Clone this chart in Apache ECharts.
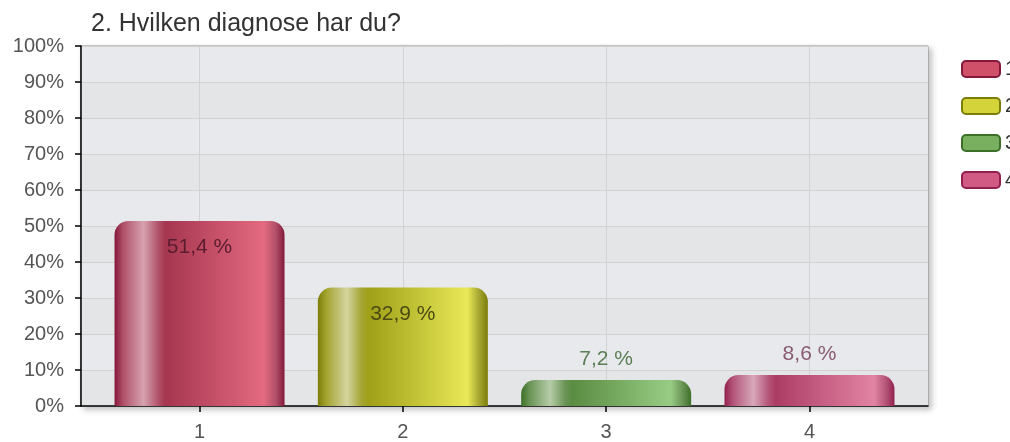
<!DOCTYPE html>
<html>
<head>
<meta charset="utf-8">
<title>2. Hvilken diagnose har du?</title>
<script src="https://cdn.jsdelivr.net/npm/echarts@6/dist/echarts.min.js"></script>
<style>
  html, body { margin: 0; padding: 0; background: #fff; }
  #chart { width: 1010px; height: 442px; }
</style>
</head>
<body>
<div id="chart"></div>
<script>
// chart data
const titleText = '2. Hvilken diagnose har du?'
const categories = ['1', '2', '3', '4']
const values = [51.4, 32.9, 7.2, 8.6]
const valueLabels = ['51,4 %', '32,9 %', '7,2 %', '8,6 %']
const yTicks = [0, 10, 20, 30, 40, 50, 60, 70, 80, 90, 100]

// look of each bar: edge, highlight, body start, body end, label colour
const palette = [
  { edge: '#84183a', mid: '#b05068', hi: '#d6a2b0', base: '#a63650', light: '#e36a80', text: '#5a1c2e', legend: '#d0506a' },
  { edge: '#7c7c08', mid: '#a4a430', hi: '#d4d4a0', base: '#a0a018', light: '#e8e858', text: '#4a4a12', legend: '#d4d43a' },
  { edge: '#3c7028', mid: '#6a9456', hi: '#b6cca8', base: '#5a8c42', light: '#98cc84', text: '#5c7e54', legend: '#78b060' },
  { edge: '#92204e', mid: '#b45478', hi: '#d8a8ba', base: '#ac3c64', light: '#e284a4', text: '#8a5a72', legend: '#d05a84' }
]
const insideLabel = [true, true, false, false]

function barGradient(p) {
  return new echarts.graphic.LinearGradient(0, 0, 1, 0, [
    { offset: 0, color: p.edge },
    { offset: 0.05, color: p.mid },
    { offset: 0.17, color: p.hi },
    { offset: 0.26, color: p.mid },
    { offset: 0.3, color: p.base },
    { offset: 0.88, color: p.light },
    { offset: 0.95, color: p.mid },
    { offset: 1, color: p.edge }
  ])
}

const series = categories.map((c, i) => ({
  name: c,
  type: 'bar',
  barWidth: 170,
  barGap: '-100%',
  clip: false,
  data: [[i + 1, values[i]]],
  itemStyle: {
    color: barGradient(palette[i]),
    borderRadius: [14, 14, 0, 0]
  },
  label: {
    show: true,
    position: insideLabel[i] ? 'insideTop' : 'top',
    distance: insideLabel[i] ? 16 : 10,
    formatter: () => valueLabels[i],
    color: palette[i].text,
    fontFamily: 'Liberation Sans, Arial, sans-serif',
    fontSize: 21
  },
  emphasis: { disabled: true }
}))

const chart = echarts.init(document.getElementById('chart'), null, { renderer: 'canvas' })
chart.setOption({
  animation: false,
  backgroundColor: '#ffffff',
  textStyle: { fontFamily: 'Liberation Sans, Arial, sans-serif' },
  title: {
    text: titleText,
    left: 86,
    top: 7,
    textStyle: { fontSize: 25, fontWeight: 'normal', color: '#333' }
  },
  legend: {
    orient: 'vertical',
    left: 956,
    top: 54,
    itemWidth: 38,
    itemHeight: 16,
    itemGap: 17,
    icon: 'roundRect',
    selectedMode: false,
    textStyle: { fontSize: 20, color: '#333' },
    data: categories.map((c, i) => ({
      name: c,
      itemStyle: {
        color: palette[i].legend,
        borderColor: palette[i].edge,
        borderWidth: 2
      }
    }))
  },
  grid: {
    left: 81,
    right: 82,
    top: 46,
    bottom: 36,
    show: true,
    backgroundColor: '#e6e8ea',
    borderColor: '#8c8c8c',
    borderWidth: 1,
    shadowColor: 'rgba(0,0,0,0.25)',
    shadowBlur: 6,
    shadowOffsetX: 3,
    shadowOffsetY: 3
  },
  xAxis: {
    type: 'value',
    min: 0.417,
    max: 4.583,
    axisLine: { show: true, lineStyle: { color: '#000', width: 1.5 } },
    axisTick: { show: true, length: 6, customValues: [1, 2, 3, 4], lineStyle: { color: '#000', width: 1.5 } },
    axisLabel: {
      customValues: [1, 2, 3, 4],
      formatter: v => categories[Math.round(v) - 1],
      fontSize: 20,
      color: '#555',
      margin: 16
    },
    splitLine: { show: true, lineStyle: { color: '#d2d2d2', width: 1 } }
  },
  yAxis: {
    type: 'value',
    min: yTicks[0],
    max: yTicks[yTicks.length - 1],
    interval: yTicks[1] - yTicks[0],
    axisLine: { show: true, lineStyle: { color: '#000', width: 1.5 } },
    axisTick: { show: true, length: 6, lineStyle: { color: '#000', width: 1.5 } },
    axisLabel: {
      formatter: '{value}%',
      fontSize: 20,
      color: '#555',
      margin: 17
    },
    splitLine: { show: true, lineStyle: { color: '#d2d2d2', width: 1 } },
    splitArea: { show: true, areaStyle: { color: ['#e4e5e7', '#e7e9ec'] } }
  },
  series: series
})
</script>
</body>
</html>
